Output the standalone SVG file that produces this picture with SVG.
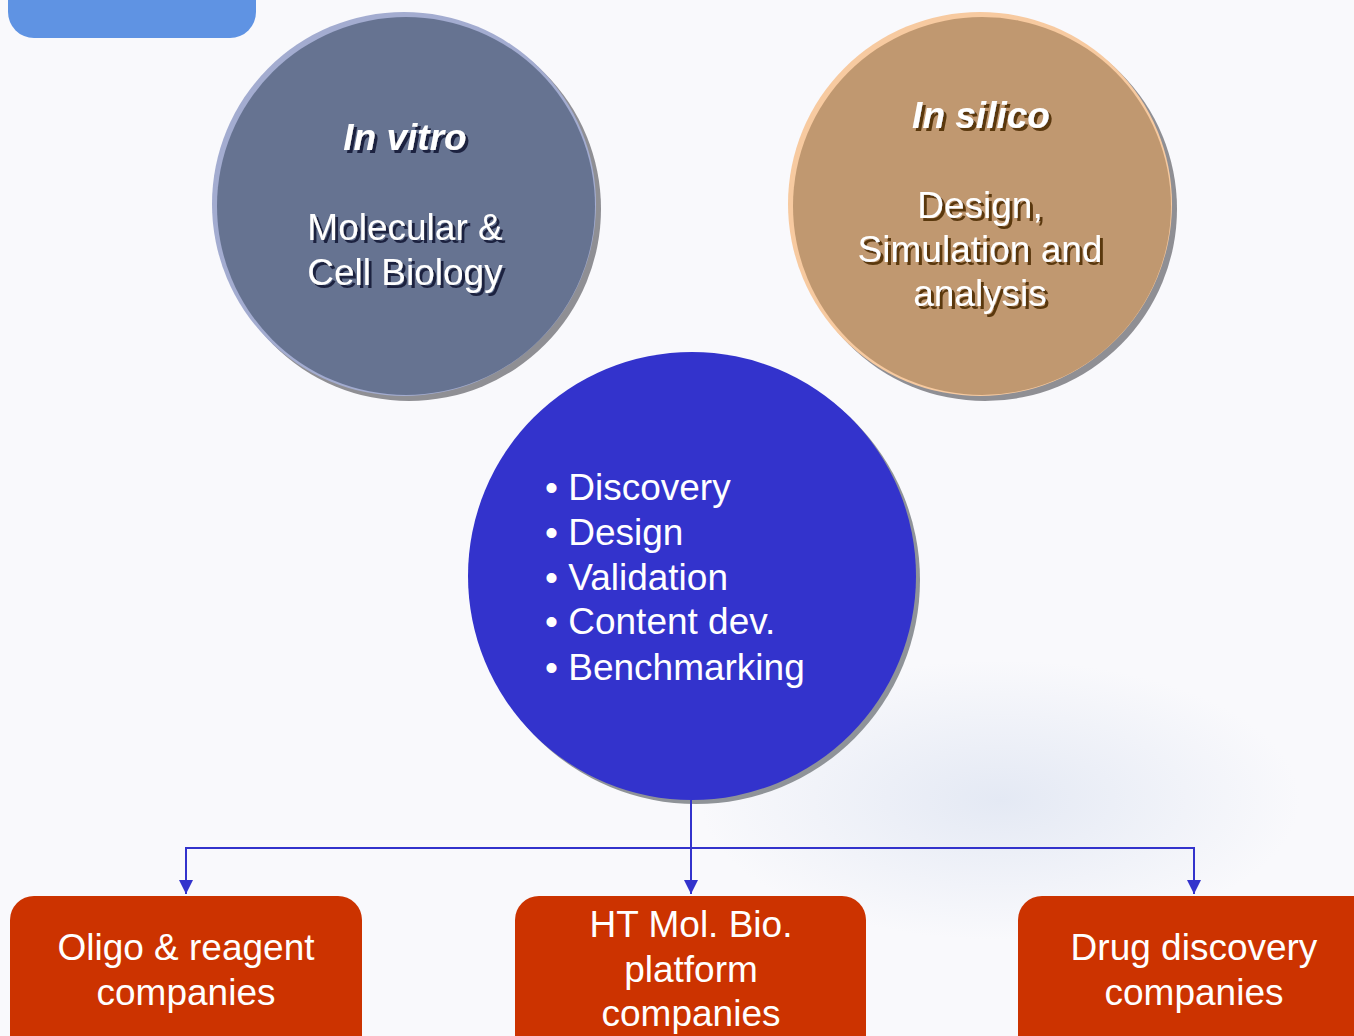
<svg xmlns="http://www.w3.org/2000/svg" width="1354" height="1036" viewBox="0 0 1354 1036">
<defs>
<style>
.t{font-family:"Liberation Sans",Arial,sans-serif;font-size:37px;text-anchor:middle;fill:#fff}
.bi{font-weight:bold;font-style:italic}
.bl{font-family:"Liberation Sans",Arial,sans-serif;font-size:37px;fill:#fff}
.box{fill:#cc3300}
.con{stroke:#3333cc;stroke-width:2;fill:none}
</style>
<filter id="shv" x="-10%" y="-10%" width="130%" height="140%">
<feOffset in="SourceAlpha" dx="3" dy="3" result="o"/>
<feFlood flood-color="#1e2440"/>
<feComposite in2="o" operator="in" result="s"/>
<feMerge><feMergeNode in="s"/><feMergeNode in="SourceGraphic"/></feMerge>
</filter>
<filter id="shs" x="-10%" y="-10%" width="130%" height="140%">
<feOffset in="SourceAlpha" dx="3" dy="3" result="o"/>
<feFlood flood-color="#5a3810"/>
<feComposite in2="o" operator="in" result="s"/>
<feMerge><feMergeNode in="s"/><feMergeNode in="SourceGraphic"/></feMerge>
</filter>
<marker id="ah" viewBox="0 0 14 14" refX="14" refY="7" markerWidth="14" markerHeight="14" markerUnits="userSpaceOnUse" orient="auto-start-reverse">
<path d="M0,0 L14,7 L0,14 Z" fill="#3333cc"/>
</marker>
<radialGradient id="bg" cx="0.5" cy="0.5" r="0.5">
<stop offset="0" stop-color="#e4e9f4"/>
<stop offset="1" stop-color="#f9f9fc"/>
</radialGradient>
</defs>
<rect width="1354" height="1036" fill="#f9f9fc"/>
<ellipse cx="1000" cy="800" rx="300" ry="140" fill="url(#bg)"/>
<rect x="8" y="-30" width="248" height="68" rx="26" fill="#5f93e3"/>
<g id="invitro">
<circle cx="409" cy="209" r="192" fill="#8f8f94"/>
<circle cx="404" cy="204" r="192" fill="#a3acd0"/>
<circle cx="406" cy="206" r="189" fill="#667391"/>
<g filter="url(#shv)">
<text class="t bi" x="405" y="150">In vitro</text>
<text class="t" x="405" y="240">Molecular &amp;</text>
<text class="t" x="405" y="285">Cell Biology</text>
</g>
</g>
<g id="insilico">
<circle cx="985" cy="209" r="192" fill="#8f8f94"/>
<circle cx="980" cy="204" r="192" fill="#f7caa0"/>
<circle cx="982" cy="206" r="189" fill="#c09870"/>
<g filter="url(#shs)">
<text class="t bi" x="981" y="128">In silico</text>
<text class="t" x="980" y="218">Design,</text>
<text class="t" x="980" y="262">Simulation and</text>
<text class="t" x="980" y="306">analysis</text>
</g>
</g>
<g id="center">
<circle cx="696" cy="580" r="224" fill="#8f9398"/>
<circle cx="692" cy="576" r="224" fill="#3333cc"/>
<text class="bl" x="545" y="500">• Discovery</text>
<text class="bl" x="545" y="545">• Design</text>
<text class="bl" x="545" y="590">• Validation</text>
<text class="bl" x="545" y="634">• Content dev.</text>
<text class="bl" x="545" y="680">• Benchmarking</text>
</g>
<g id="connectors">
<path class="con" d="M691,800 V894" marker-end="url(#ah)"/>
<path class="con" d="M186,894 V848 H1194 V894" marker-start="url(#ah)" marker-end="url(#ah)"/>
</g>
<g id="oligo">
<rect class="box" x="10" y="896" width="352" height="170" rx="24"/>
<text class="t" x="186" y="960">Oligo &amp; reagent</text>
<text class="t" x="186" y="1005">companies</text>
</g>
<g id="ht">
<rect class="box" x="515" y="896" width="351" height="170" rx="24"/>
<text class="t" x="691" y="937">HT Mol. Bio.</text>
<text class="t" x="691" y="982">platform</text>
<text class="t" x="691" y="1026">companies</text>
</g>
<g id="drug">
<rect class="box" x="1018" y="896" width="360" height="170" rx="24"/>
<text class="t" x="1194" y="960">Drug discovery</text>
<text class="t" x="1194" y="1005">companies</text>
</g>
</svg>
